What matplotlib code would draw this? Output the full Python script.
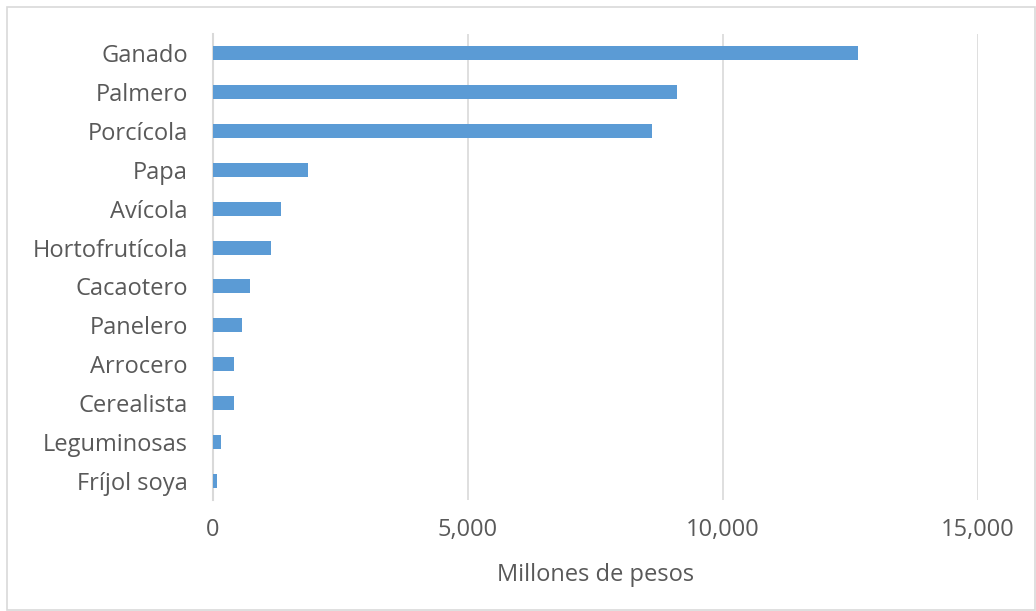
import matplotlib
matplotlib.use("Agg")
import matplotlib.pyplot as plt
from matplotlib.ticker import FuncFormatter
from matplotlib.patches import Rectangle

categorias = ["Ganado", "Palmero", "Porcícola", "Papa", "Avícola", "Hortofrutícola",
              "Cacaotero", "Panelero", "Arrocero", "Cerealista", "Leguminosas", "Fríjol soya"]
valores = [12650, 9100, 8610, 1860, 1330, 1140, 720, 570, 410, 410, 160, 80]

plt.rcParams['font.family'] = ['Open Sans', 'DejaVu Sans']
gris = "#595959"

fig = plt.figure(figsize=(10.36, 6.11), dpi=100)
ax = fig.add_axes([213/1036, 1-500/611, (978-213)/1036, (500-34)/611])

y = list(range(len(categorias)))
ax.barh(y, valores, height=0.36, color="#5B9BD5", zorder=3)
ax.set_ylim(len(categorias)-0.5, -0.5)
ax.set_xlim(0, 15000)
ax.set_yticks(y)
ax.set_yticklabels(categorias, fontsize=17, color=gris)
ax.set_xticks([0, 5000, 10000, 15000])
ax.xaxis.set_major_formatter(FuncFormatter(lambda v, p: f"{int(v):,}"))
ax.tick_params(axis='x', labelsize=17, labelcolor=gris, length=0, pad=13)
ax.tick_params(axis='y', length=0, pad=18)
ax.grid(axis='x', color="#D9D9D9", linewidth=1.2, zorder=0)
for s in ["top", "right", "bottom"]:
    ax.spines[s].set_visible(False)
ax.spines["left"].set_color("#D9D9D9")
ax.spines["left"].set_linewidth(1.5)
ax.set_xlabel("Millones de pesos", fontsize=17, color=gris, labelpad=15)

fig.patches.append(Rectangle((7/1036, 0.002), 1-8/1036, 1-7/611-0.002, transform=fig.transFigure,
                             fill=False, edgecolor="#D9D9D9", linewidth=1.2))

fig.savefig("out.png", dpi=100)
